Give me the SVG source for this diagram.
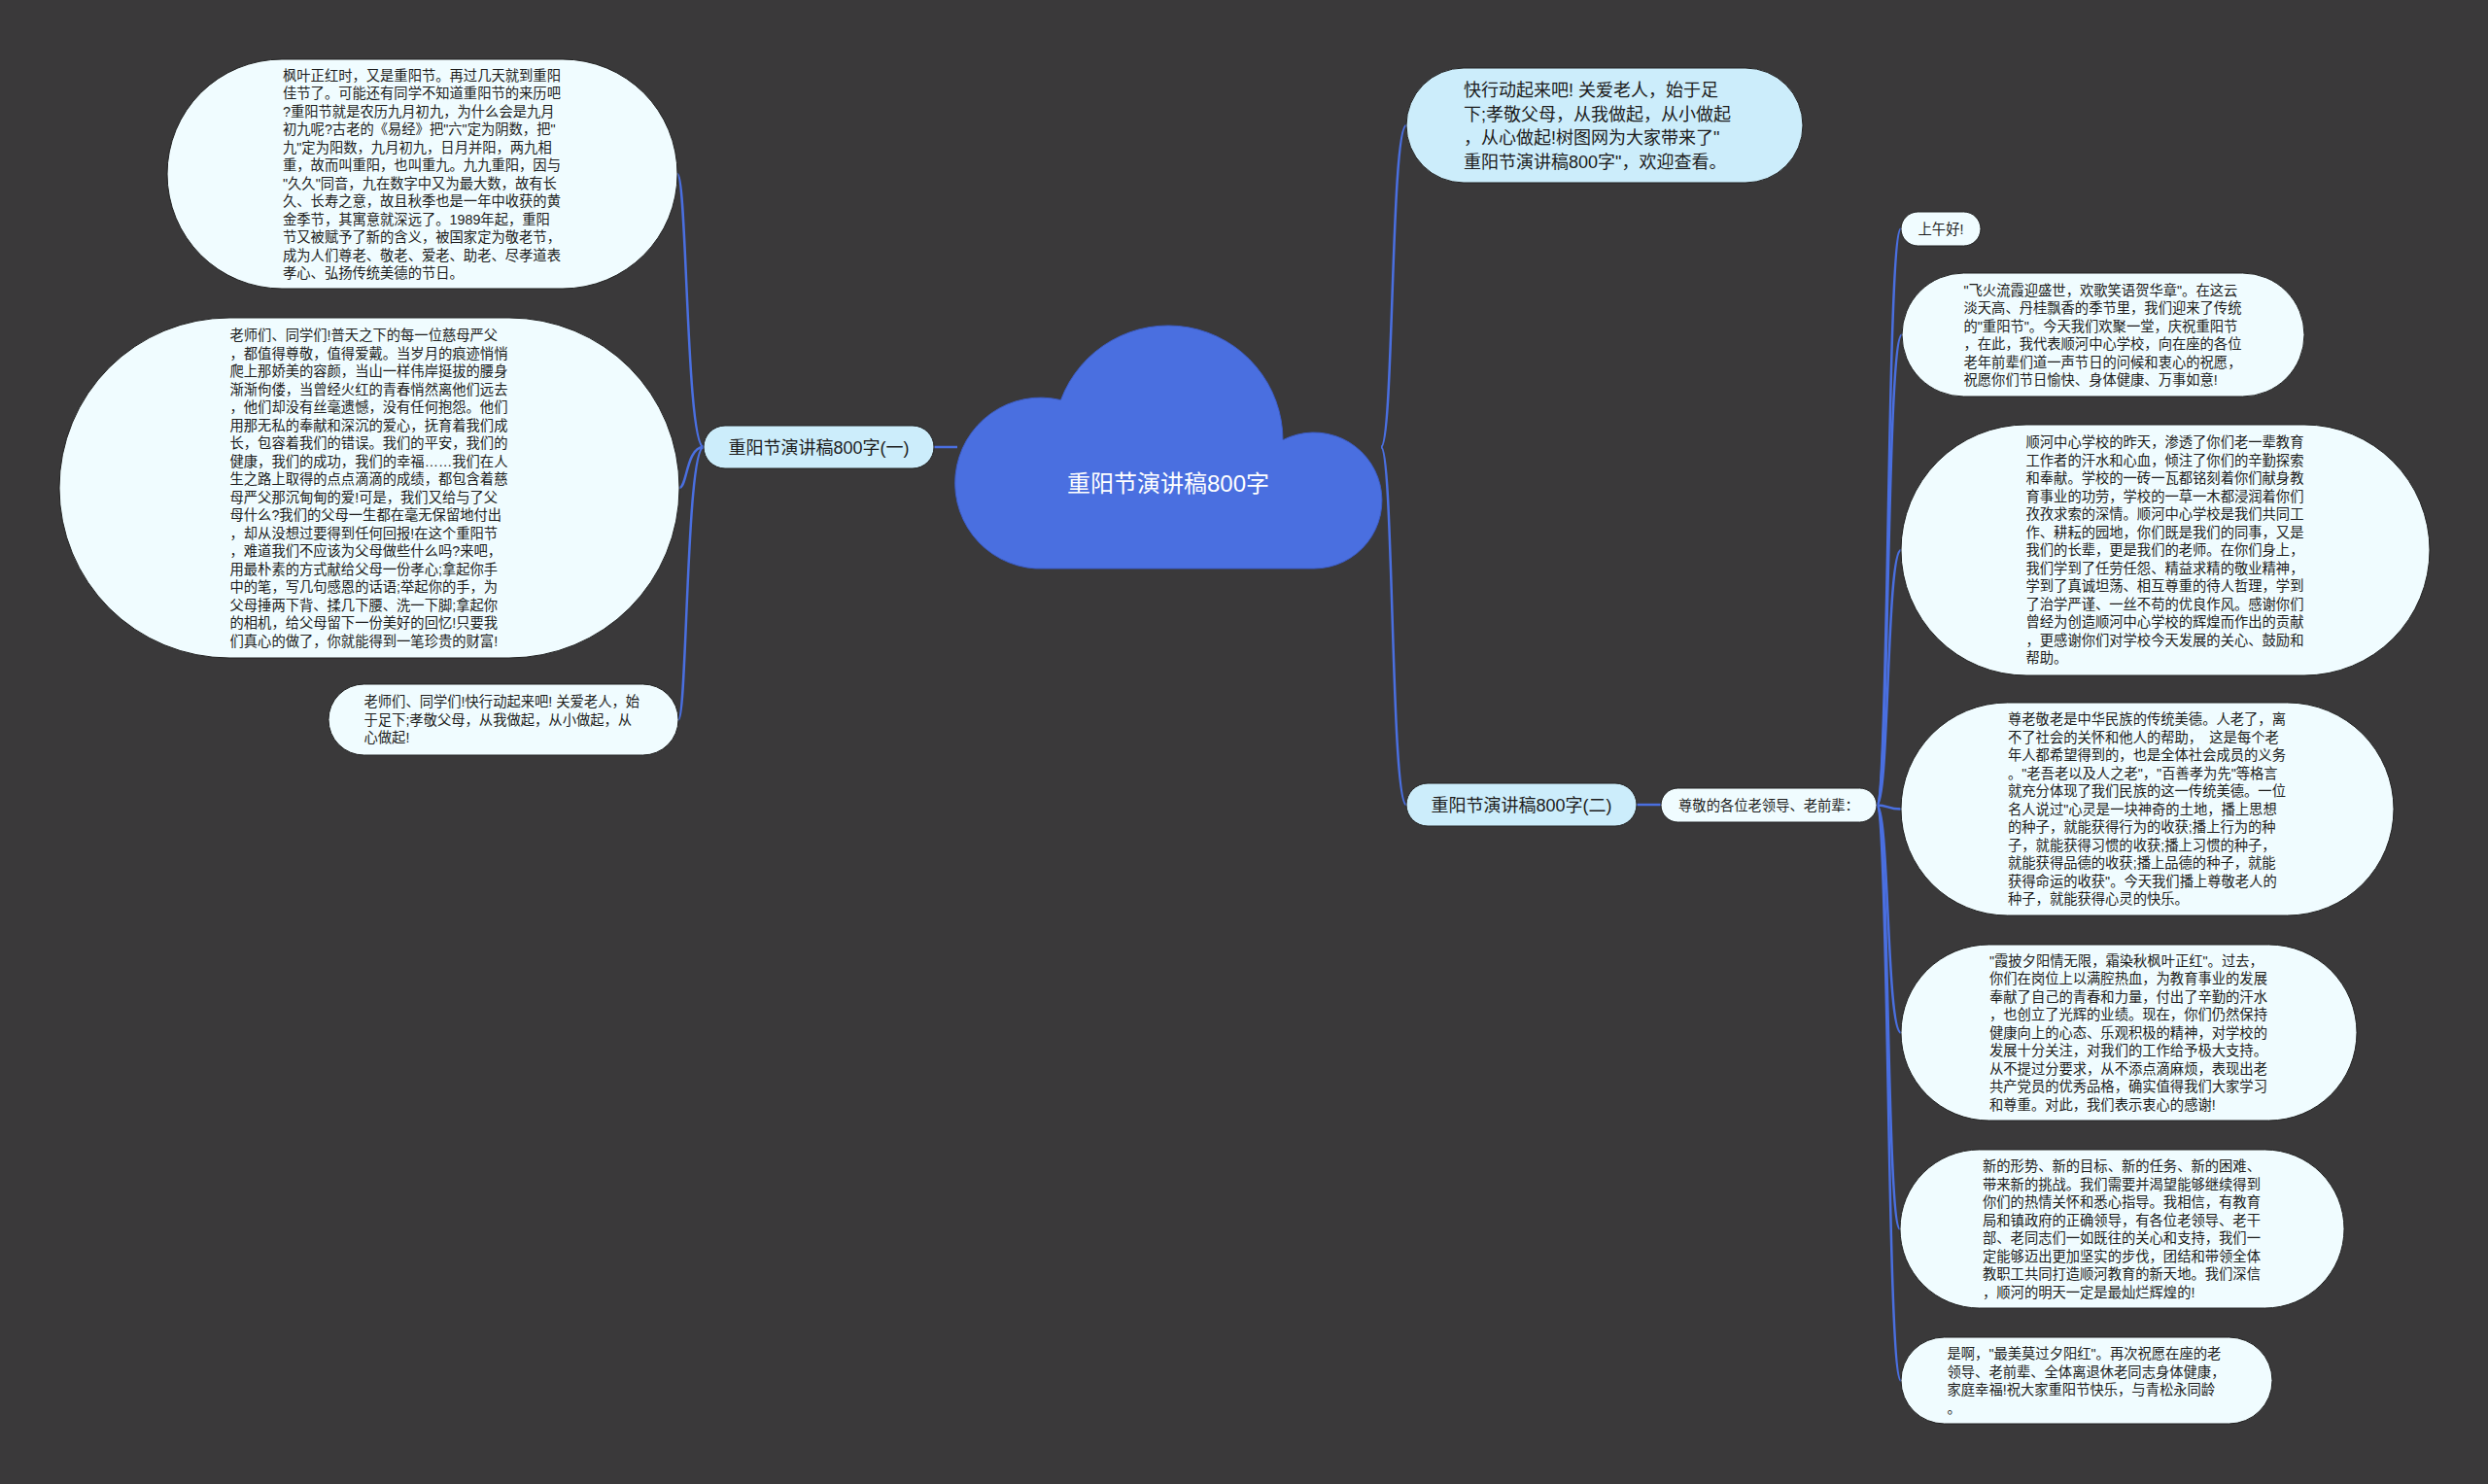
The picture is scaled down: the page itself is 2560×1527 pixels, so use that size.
<svg xmlns="http://www.w3.org/2000/svg" width="2560" height="1527" viewBox="0 0 2560 1527">
<style>
.bg{fill:#3a393a}
.nc{fill:#f0fcff;stroke:#222;stroke-width:1}
.n1{fill:#ccedfb;stroke:#222;stroke-width:1}
.cloud{fill:#4a6fe0;stroke:#3c5cc4;stroke-width:1}
.t{font-family:"Liberation Sans","Noto Sans CJK SC",sans-serif;font-size:14.3px;fill:#1c1c1c}
.t18{font-family:"Liberation Sans","Noto Sans CJK SC",sans-serif;font-size:18px;fill:#1c1c1c}
.tc{font-family:"Liberation Sans","Noto Sans CJK SC",sans-serif;font-size:24px;fill:#ffffff}
.m{text-anchor:middle}
.conn{fill:none;stroke:#4a6fe0;stroke-width:2.5}
</style>
<rect class="bg" x="0" y="0" width="2560" height="1527"/>
<g id="connectors">
<path class="conn" d="M985 460 L961 460"/>
<path class="conn" d="M724 460 C706 460 707 179 697 179"/>
<path class="conn" d="M724 460 C706 460 707 502 699 502"/>
<path class="conn" d="M724 460 C706 460 707 740.5 698 740.5"/>
<path class="conn" d="M1421 460 C1434 460 1431 129 1447 129"/>
<path class="conn" d="M1421 460 C1434 460 1431 828 1447 828"/>
<path class="conn" d="M1684 828 L1709 828"/>
<path class="conn" d="M1931 828.5 C1944 828.5 1941 235.5 1956 235.5"/>
<path class="conn" d="M1931 828.5 C1944 828.5 1941 344.5 1957 344.5"/>
<path class="conn" d="M1931 828.5 C1944 828.5 1941 566 1956 566"/>
<path class="conn" d="M1931 828.5 C1944 828.5 1941 832.5 1956 832.5"/>
<path class="conn" d="M1931 828.5 C1944 828.5 1941 1062.5 1956 1062.5"/>
<path class="conn" d="M1931 828.5 C1944 828.5 1941 1264.5 1955 1264.5"/>
<path class="conn" d="M1931 828.5 C1944 828.5 1941 1420.5 1956 1420.5"/>
</g>
<g id="center">
<path class="cloud" d="M1075 585 A88 88 0 1 1 1091.5 411.6 A118 118 0 0 1 1320 452.7 A70 70 0 1 1 1352 585 Z"/>
<text class="tc m" x="1202" y="506">重阳节演讲稿800字</text>
</g>
<g id="branch1">
<rect class="n1" x="724" y="438" width="237" height="44" rx="22"/>
<text class="t18 m" x="842.5" y="466.8">重阳节演讲稿800字(一)</text>
</g>
<g id="left1">
<rect class="nc" x="172" y="61" width="525" height="236" rx="118"/>
<text class="t"><tspan x="291" y="82.6">枫叶正红时，又是重阳节。再过几天就到重阳</tspan><tspan x="291" dy="18.5">佳节了。可能还有同学不知道重阳节的来历吧</tspan><tspan x="291" dy="18.5">?重阳节就是农历九月初九，为什么会是九月</tspan><tspan x="291" dy="18.5">初九呢?古老的《易经》把"六"定为阴数，把"</tspan><tspan x="291" dy="18.5">九"定为阳数，九月初九，日月并阳，两九相</tspan><tspan x="291" dy="18.5">重，故而叫重阳，也叫重九。九九重阳，因与</tspan><tspan x="291" dy="18.5">"久久"同音，九在数字中又为最大数，故有长</tspan><tspan x="291" dy="18.5">久、长寿之意，故且秋季也是一年中收获的黄</tspan><tspan x="291" dy="18.5">金季节，其寓意就深远了。1989年起，重阳</tspan><tspan x="291" dy="18.5">节又被赋予了新的含义，被国家定为敬老节，</tspan><tspan x="291" dy="18.5">成为人们尊老、敬老、爱老、助老、尽孝道表</tspan><tspan x="291" dy="18.5">孝心、弘扬传统美德的节日。</tspan></text>
</g>
<g id="left2">
<rect class="nc" x="61" y="327" width="638" height="350" rx="175"/>
<text class="t"><tspan x="236.5" y="350.2">老师们、同学们!普天之下的每一位慈母严父</tspan><tspan x="236.5" dy="18.5">，都值得尊敬，值得爱戴。当岁月的痕迹悄悄</tspan><tspan x="236.5" dy="18.5">爬上那娇美的容颜，当山一样伟岸挺拔的腰身</tspan><tspan x="236.5" dy="18.5">渐渐佝偻，当曾经火红的青春悄然离他们远去</tspan><tspan x="236.5" dy="18.5">，他们却没有丝毫遗憾，没有任何抱怨。他们</tspan><tspan x="236.5" dy="18.5">用那无私的奉献和深沉的爱心，抚育着我们成</tspan><tspan x="236.5" dy="18.5">长，包容着我们的错误。我们的平安，我们的</tspan><tspan x="236.5" dy="18.5">健康，我们的成功，我们的幸福……我们在人</tspan><tspan x="236.5" dy="18.5">生之路上取得的点点滴滴的成绩，都包含着慈</tspan><tspan x="236.5" dy="18.5">母严父那沉甸甸的爱!可是，我们又给与了父</tspan><tspan x="236.5" dy="18.5">母什么?我们的父母一生都在毫无保留地付出</tspan><tspan x="236.5" dy="18.5">，却从没想过要得到任何回报!在这个重阳节</tspan><tspan x="236.5" dy="18.5">，难道我们不应该为父母做些什么吗?来吧，</tspan><tspan x="236.5" dy="18.5">用最朴素的方式献给父母一份孝心;拿起你手</tspan><tspan x="236.5" dy="18.5">中的笔，写几句感恩的话语;举起你的手，为</tspan><tspan x="236.5" dy="18.5">父母捶两下背、揉几下腰、洗一下脚;拿起你</tspan><tspan x="236.5" dy="18.5">的相机，给父母留下一份美好的回忆!只要我</tspan><tspan x="236.5" dy="18.5">们真心的做了，你就能得到一笔珍贵的财富!</tspan></text>
</g>
<g id="left3">
<rect class="nc" x="338" y="704" width="360" height="73" rx="36.5"/>
<text class="t"><tspan x="374.5" y="727.4">老师们、同学们!快行动起来吧! 关爱老人，始</tspan><tspan x="374.5" dy="18.5">于足下;孝敬父母，从我做起，从小做起，从</tspan><tspan x="374.5" dy="18.5">心做起!</tspan></text>
</g>
<g id="intro">
<rect class="n1" x="1447" y="70" width="408" height="118" rx="59"/>
<text class="t18"><tspan x="1506" y="99">快行动起来吧! 关爱老人，始于足</tspan><tspan x="1506" dy="24.5">下;孝敬父母，从我做起，从小做起</tspan><tspan x="1506" dy="24.5">，从心做起!树图网为大家带来了"</tspan><tspan x="1506" dy="24.5">重阳节演讲稿800字"，欢迎查看。</tspan></text>
</g>
<g id="branch2">
<rect class="n1" x="1447" y="806" width="237" height="44" rx="22"/>
<text class="t18 m" x="1565.5" y="834.8">重阳节演讲稿800字(二)</text>
</g>
<g id="greeting">
<rect class="nc" x="1709" y="811" width="222" height="35" rx="17.5"/>
<text class="t m" x="1820" y="833.9">尊敬的各位老领导、老前辈：</text>
</g>
<g id="r1">
<rect class="nc" x="1956" y="218" width="82" height="35" rx="17.5"/>
<text class="t m" x="1997" y="240.9">上午好!</text>
</g>
<g id="r2">
<rect class="nc" x="1957" y="281" width="414" height="127" rx="63.5"/>
<text class="t"><tspan x="2020.5" y="303.7">"飞火流霞迎盛世，欢歌笑语贺华章"。在这云</tspan><tspan x="2020.5" dy="18.5">淡天高、丹桂飘香的季节里，我们迎来了传统</tspan><tspan x="2020.5" dy="18.5">的"重阳节"。今天我们欢聚一堂，庆祝重阳节</tspan><tspan x="2020.5" dy="18.5">，在此，我代表顺河中心学校，向在座的各位</tspan><tspan x="2020.5" dy="18.5">老年前辈们道一声节日的问候和衷心的祝愿，</tspan><tspan x="2020.5" dy="18.5">祝愿你们节日愉快、身体健康、万事如意!</tspan></text>
</g>
<g id="r3">
<rect class="nc" x="1956" y="437" width="544" height="258" rx="129"/>
<text class="t"><tspan x="2084.5" y="460.4">顺河中心学校的昨天，渗透了你们老一辈教育</tspan><tspan x="2084.5" dy="18.5">工作者的汗水和心血，倾注了你们的辛勤探索</tspan><tspan x="2084.5" dy="18.5">和奉献。学校的一砖一瓦都铭刻着你们献身教</tspan><tspan x="2084.5" dy="18.5">育事业的功劳，学校的一草一木都浸润着你们</tspan><tspan x="2084.5" dy="18.5">孜孜求索的深情。顺河中心学校是我们共同工</tspan><tspan x="2084.5" dy="18.5">作、耕耘的园地，你们既是我们的同事，又是</tspan><tspan x="2084.5" dy="18.5">我们的长辈，更是我们的老师。在你们身上，</tspan><tspan x="2084.5" dy="18.5">我们学到了任劳任怨、精益求精的敬业精神，</tspan><tspan x="2084.5" dy="18.5">学到了真诚坦荡、相互尊重的待人哲理，学到</tspan><tspan x="2084.5" dy="18.5">了治学严谨、一丝不苟的优良作风。感谢你们</tspan><tspan x="2084.5" dy="18.5">曾经为创造顺河中心学校的辉煌而作出的贡献</tspan><tspan x="2084.5" dy="18.5">，更感谢你们对学校今天发展的关心、鼓励和</tspan><tspan x="2084.5" dy="18.5">帮助。</tspan></text>
</g>
<g id="r4">
<rect class="nc" x="1956" y="723" width="507" height="219" rx="109.5"/>
<text class="t"><tspan x="2066" y="745.4">尊老敬老是中华民族的传统美德。人老了，离</tspan><tspan x="2066" dy="18.5">不了社会的关怀和他人的帮助，　这是每个老</tspan><tspan x="2066" dy="18.5">年人都希望得到的，也是全体社会成员的义务</tspan><tspan x="2066" dy="18.5">。"老吾老以及人之老"，"百善孝为先"等格言</tspan><tspan x="2066" dy="18.5">就充分体现了我们民族的这一传统美德。一位</tspan><tspan x="2066" dy="18.5">名人说过"心灵是一块神奇的土地，播上思想</tspan><tspan x="2066" dy="18.5">的种子，就能获得行为的收获;播上行为的种</tspan><tspan x="2066" dy="18.5">子，就能获得习惯的收获;播上习惯的种子，</tspan><tspan x="2066" dy="18.5">就能获得品德的收获;播上品德的种子，就能</tspan><tspan x="2066" dy="18.5">获得命运的收获"。今天我们播上尊敬老人的</tspan><tspan x="2066" dy="18.5">种子，就能获得心灵的快乐。</tspan></text>
</g>
<g id="r5">
<rect class="nc" x="1956" y="972" width="469" height="181" rx="90.5"/>
<text class="t"><tspan x="2047" y="993.9">"霞披夕阳情无限，霜染秋枫叶正红"。过去，</tspan><tspan x="2047" dy="18.5">你们在岗位上以满腔热血，为教育事业的发展</tspan><tspan x="2047" dy="18.5">奉献了自己的青春和力量，付出了辛勤的汗水</tspan><tspan x="2047" dy="18.5">，也创立了光辉的业绩。现在，你们仍然保持</tspan><tspan x="2047" dy="18.5">健康向上的心态、乐观积极的精神，对学校的</tspan><tspan x="2047" dy="18.5">发展十分关注，对我们的工作给予极大支持。</tspan><tspan x="2047" dy="18.5">从不提过分要求，从不添点滴麻烦，表现出老</tspan><tspan x="2047" dy="18.5">共产党员的优秀品格，确实值得我们大家学习</tspan><tspan x="2047" dy="18.5">和尊重。对此，我们表示衷心的感谢!</tspan></text>
</g>
<g id="r6">
<rect class="nc" x="1955" y="1183" width="457" height="163" rx="81.5"/>
<text class="t"><tspan x="2040" y="1205.2">新的形势、新的目标、新的任务、新的困难、</tspan><tspan x="2040" dy="18.5">带来新的挑战。我们需要并渴望能够继续得到</tspan><tspan x="2040" dy="18.5">你们的热情关怀和悉心指导。我相信，有教育</tspan><tspan x="2040" dy="18.5">局和镇政府的正确领导，有各位老领导、老干</tspan><tspan x="2040" dy="18.5">部、老同志们一如既往的关心和支持，我们一</tspan><tspan x="2040" dy="18.5">定能够迈出更加坚实的步伐，团结和带领全体</tspan><tspan x="2040" dy="18.5">教职工共同打造顺河教育的新天地。我们深信</tspan><tspan x="2040" dy="18.5">，顺河的明天一定是最灿烂辉煌的!</tspan></text>
</g>
<g id="r7">
<rect class="nc" x="1956" y="1376" width="382" height="89" rx="44.5"/>
<text class="t"><tspan x="2003.5" y="1398.2">是啊，"最美莫过夕阳红"。再次祝愿在座的老</tspan><tspan x="2003.5" dy="18.5">领导、老前辈、全体离退休老同志身体健康，</tspan><tspan x="2003.5" dy="18.5">家庭幸福!祝大家重阳节快乐，与青松永同龄</tspan><tspan x="2003.5" dy="18.5">。</tspan></text>
</g>
</svg>
